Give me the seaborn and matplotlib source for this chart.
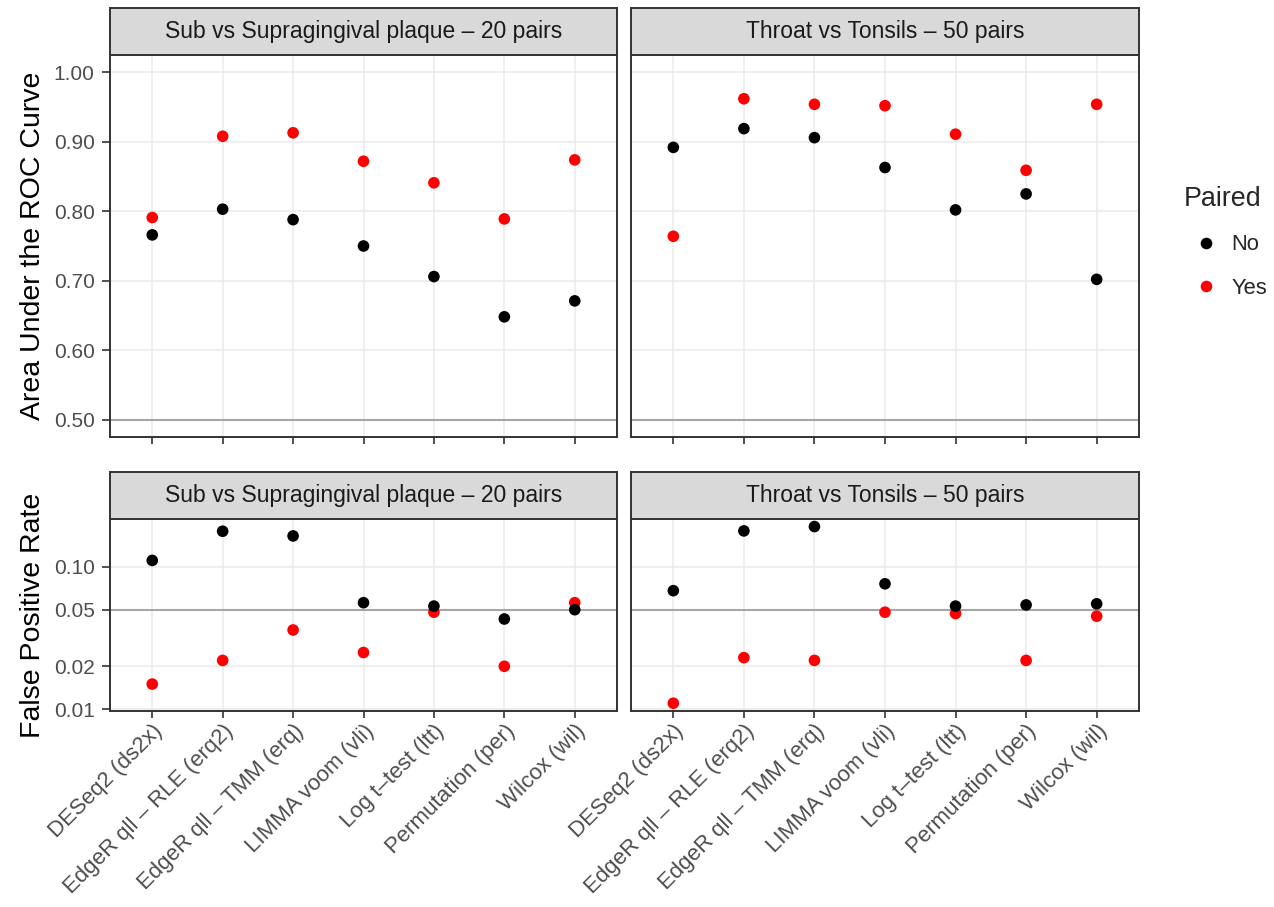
import numpy as np
import pandas as pd
import seaborn as sns
import matplotlib
matplotlib.use("Agg")
import matplotlib.pyplot as plt
from matplotlib.ticker import FixedLocator, FixedFormatter, NullLocator

methods = ["DESeq2 (ds2x)", "EdgeR qll – RLE (erq2)", "EdgeR qll – TMM (erq)",
           "LIMMA voom (vli)", "Log t–test (ltt)", "Permutation (per)", "Wilcox (wil)"]
studies = ["Sub vs Supragingival plaque – 20 pairs", "Throat vs Tonsils – 50 pairs"]

# area under the ROC curve
auc_sub_no = [0.766, 0.803, 0.788, 0.750, 0.706, 0.648, 0.671]
auc_sub_yes = [0.791, 0.908, 0.913, 0.872, 0.841, 0.789, 0.874]
auc_thr_no = [0.892, 0.919, 0.906, 0.863, 0.802, 0.825, 0.702]
auc_thr_yes = [0.764, 0.962, 0.954, 0.952, 0.911, 0.859, 0.954]

# false positive rate
fpr_sub_no = [0.111, 0.178, 0.165, 0.056, 0.053, 0.043, 0.050]
fpr_sub_yes = [0.015, 0.022, 0.036, 0.025, 0.048, 0.020, 0.056]
fpr_thr_no = [0.068, 0.179, 0.192, 0.076, 0.053, 0.054, 0.055]
fpr_thr_yes = [0.011, 0.023, 0.022, 0.048, 0.047, 0.022, 0.045]

auc_ticks = [0.5, 0.6, 0.7, 0.8, 0.9, 1.0]
fpr_ticks = [0.01, 0.02, 0.05, 0.10]
fpr_labels = ["0.01", "0.02", "0.05", "0.10"]


def make_df(no, yes):
    # Yes rows first so black points sit on top, like the original
    return pd.DataFrame({
        "method": methods + methods,
        "value": yes + no,
        "Paired": ["Yes"] * len(yes) + ["No"] * len(no),
    })


sns.set_theme(style="white")
plt.rcParams["font.family"] = ["Liberation Sans", "DejaVu Sans"]

W, H = 1274, 907
fig = plt.figure(figsize=(W / 100, H / 100), dpi=100)

def fx(px):
    return px / W

def fy(px):
    return 1 - px / H

cols = [(110, 617), (631, 1139)]
rows = [(55, 437), (519, 711)]
strip_h = 47

panels = [
    [make_df(auc_sub_no, auc_sub_yes), make_df(auc_thr_no, auc_thr_yes)],
    [make_df(fpr_sub_no, fpr_sub_yes), make_df(fpr_thr_no, fpr_thr_yes)],
]

grey_txt = "#4D4D4D"
border = "#333333"
palette = {"No": "black", "Yes": "red"}

for r, (top, bot) in enumerate(rows):
    for c, (left, right) in enumerate(cols):
        ax = fig.add_axes([fx(left), fy(bot), fx(right - left), (bot - top) / H])
        df = panels[r][c]
        if r == 1:
            ax.set_yscale("log")
        sns.scatterplot(data=df, x="method", y="value", hue="Paired",
                        hue_order=["No", "Yes"], palette=palette, s=70,
                        edgecolor="none", ax=ax, legend=(r == 0 and c == 0),
                        zorder=3)
        if r == 0:
            ax.axhline(0.5, color="#A6A6A6", lw=1.5, zorder=2)
            ax.set_ylim(0.475, 1.025)
            ax.yaxis.set_major_locator(FixedLocator(auc_ticks))
            ax.set_yticklabels([f"{t:.2f}" for t in auc_ticks])
        else:
            ax.axhline(0.05, color="#A6A6A6", lw=1.5, zorder=2)
            ax.set_ylim(0.0097, 0.217)
            ax.yaxis.set_major_locator(FixedLocator(fpr_ticks))
            ax.yaxis.set_major_formatter(FixedFormatter(fpr_labels))
            ax.yaxis.set_minor_locator(NullLocator())
        ax.set_xlim(-0.6, 6.6)
        ax.grid(True, color="#EBEBEB", lw=1.1, zorder=0)
        ax.set_axisbelow(True)
        for sp in ax.spines.values():
            sp.set_color(border)
            sp.set_linewidth(1.4)
        ax.tick_params(axis="x", length=5, width=1.2, color=border,
                       labelsize=16, labelcolor=grey_txt, pad=2, bottom=True)
        ax.tick_params(axis="y", length=6, width=1.2, color=border,
                       labelsize=15, labelcolor=grey_txt, pad=5,
                       left=(c == 0), labelleft=(c == 0))
        ax.set_xlabel("")
        ax.set_ylabel("")
        if r == 1:
            plt.setp(ax.get_xticklabels(), rotation=45, ha="right", va="top",
                     rotation_mode="anchor")
        else:
            ax.tick_params(axis="x", labelbottom=False)
        if c == 0:
            ax.set_ylabel(["Area Under the ROC Curve", "False Positive Rate"][r],
                          fontsize=20.5, color="black", labelpad=6)
        if r == 0 and c == 0:
            handles, labels = ax.get_legend_handles_labels()
            ax.get_legend().remove()

        # facet strip
        sax = fig.add_axes([fx(left), fy(top), fx(right - left), strip_h / H])
        sax.set_facecolor("#D9D9D9")
        sax.set_xticks([])
        sax.set_yticks([])
        for sp in sax.spines.values():
            sp.set_color(border)
            sp.set_linewidth(1.4)
        sax.text(0.5, 0.5, studies[c], ha="center", va="center", fontsize=16.5,
                 color="#1A1A1A", transform=sax.transAxes)

leg = fig.legend(handles, labels, title="Paired", loc="upper left",
                 bbox_to_anchor=(fx(1184), fy(186)), frameon=False,
                 borderpad=0, borderaxespad=0,
                 fontsize=15.8, title_fontsize=19.4, labelspacing=1.02,
                 handlelength=2.0, handletextpad=0.15, markerscale=1.0)
leg._legend_box.align = "left"

fig.savefig("out.png", dpi=100)
